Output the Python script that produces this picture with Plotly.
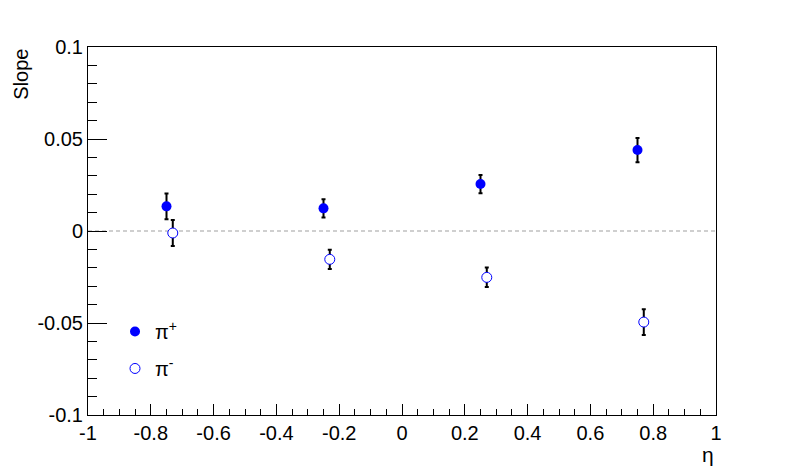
import plotly.graph_objects as go

# Data
eta_pos = [-0.75, -0.25, 0.25, 0.75]
slope_pos = [0.0134, 0.0123, 0.0255, 0.0440]
err_pos = [0.0070, 0.0050, 0.0050, 0.0066]

eta_neg = [-0.73, -0.23, 0.27, 0.77]
slope_neg = [-0.0011, -0.0154, -0.0252, -0.0495]
err_neg = [0.0071, 0.0052, 0.0053, 0.0070]

x_tickvals = [-1, -0.8, -0.6, -0.4, -0.2, 0, 0.2, 0.4, 0.6, 0.8, 1]
x_ticktext = ["-1", "-0.8", "-0.6", "-0.4", "-0.2", "0", "0.2", "0.4", "0.6", "0.8", "1"]
y_tickvals = [-0.1, -0.05, 0, 0.05, 0.1]
y_ticktext = ["-0.1", "-0.05", "0", "0.05", "0.1"]

FONT = "Liberation Sans, Arial, sans-serif"
BLUE = "#0000ff"

fig = go.Figure()
fig.add_hline(y=0, line=dict(color="#c0c0c0", width=1.5, dash="4px,3px"), layer="below")

fig.add_trace(go.Scatter(
    x=eta_pos, y=slope_pos, mode="markers", name="π<sup>+</sup>",
    legendgroup="pos",
    marker=dict(symbol="circle", size=10, color=BLUE, line=dict(width=0)),
    error_y=dict(type="data", array=err_pos, visible=True, color="black", thickness=2, width=2),
))
fig.add_trace(go.Scatter(
    x=eta_neg, y=slope_neg, mode="markers", name="π<sup>-</sup>",
    legendgroup="neg",
    marker=dict(symbol="circle", size=10, color="white", line=dict(width=1, color=BLUE)),
    error_y=dict(type="data", array=err_neg, visible=True, color="black", thickness=2, width=2),
))

axis_common = dict(
    showline=True, linecolor="black", linewidth=1, mirror=True,
    showgrid=False, zeroline=False, ticks="inside", tickcolor="black",
    tickfont=dict(family=FONT, size=20, color="black"),
)
fig.update_xaxes(
    range=[-1, 1], tickvals=x_tickvals, ticktext=x_ticktext, ticklen=11, tickwidth=1,
    minor=dict(dtick=0.05, tick0=0, ticks="inside", ticklen=6, tickcolor="black", tickwidth=1),
    **axis_common,
)
fig.update_yaxes(
    range=[-0.1, 0.1], tickvals=y_tickvals, ticktext=y_ticktext, ticklen=19, tickwidth=1,
    minor=dict(dtick=0.01, tick0=0, ticks="inside", ticklen=9, tickcolor="black", tickwidth=1),
    **axis_common,
)

# page body has an 8px margin, so the figure is made 8px smaller on each axis
fig.update_layout(
    width=788, height=464,
    margin=dict(l=80, r=80, t=39, b=57),
    paper_bgcolor="white", plot_bgcolor="white",
    font=dict(family=FONT, color="black"),
    showlegend=True,
    legend=dict(
        x=0.043, y=0.28, xanchor="left", yanchor="top",
        bgcolor="rgba(0,0,0,0)", borderwidth=0,
        font=dict(family=FONT, size=20, color="black"),
        traceorder="grouped", tracegroupgap=8,
    ),
    annotations=[
        dict(text="Slope", xref="paper", yref="paper", x=-0.108, y=1.0,
             xanchor="center", yanchor="top", textangle=-90, showarrow=False,
             font=dict(family=FONT, size=20, color="black")),
        dict(text="η", xref="paper", yref="paper", x=1.0, y=-0.072,
             xanchor="right", yanchor="top", showarrow=False,
             font=dict(family=FONT, size=21, color="black")),
    ],
)

fig.write_html("out.html")
